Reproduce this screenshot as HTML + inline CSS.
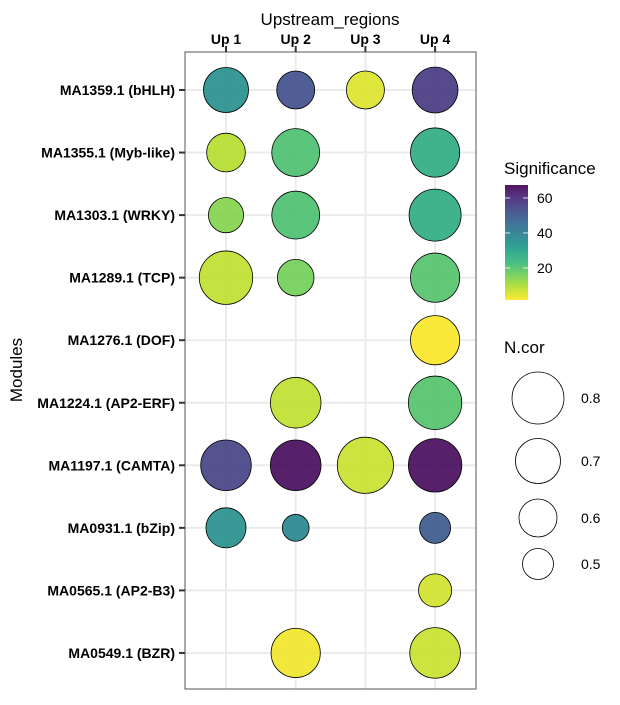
<!DOCTYPE html>
<html><head><meta charset="utf-8"><style>
body{margin:0;background:#fff;}
svg{font-family:"Liberation Sans",sans-serif;}
</style></head><body>
<svg id="chart" width="620" height="700" viewBox="0 0 620 700">
<defs>
<linearGradient id="vg" x1="0" y1="1" x2="0" y2="0">
<stop offset="0" stop-color="#FDE725"/><stop offset="0.111" stop-color="#B4DE2C"/><stop offset="0.222" stop-color="#6DCD59"/><stop offset="0.333" stop-color="#35B779"/><stop offset="0.444" stop-color="#1F9E89"/><stop offset="0.556" stop-color="#26828E"/><stop offset="0.667" stop-color="#31688E"/><stop offset="0.778" stop-color="#3E4A89"/><stop offset="0.889" stop-color="#482878"/><stop offset="1" stop-color="#440154"/>
</linearGradient>
</defs>
<g id="grid"></g>
<g id="marks"></g>
<rect x="185" y="52" width="291" height="637" fill="none" stroke="#555" stroke-width="1"/>
<g id="axes"></g>
<text x="330" y="25" text-anchor="middle" font-size="17" fill="#000">Upstream_regions</text>
<text transform="translate(22,370) rotate(-90)" text-anchor="middle" font-size="17" fill="#000">Modules</text>
<g>
<text x="504" y="174" font-size="17">Significance</text>
<rect x="505" y="185" width="23" height="115" fill="url(#vg)" opacity="0.92"/>
<g id="cbticks"></g>
</g>
<g id="sizeleg">
<text x="504" y="353" font-size="17">N.cor</text>
</g>
</svg>
<script>
const columns = ["Up 1","Up 2","Up 3","Up 4"];
const modules = ["MA1359.1 (bHLH)","MA1355.1 (Myb-like)","MA1303.1 (WRKY)","MA1289.1 (TCP)","MA1276.1 (DOF)","MA1224.1 (AP2-ERF)","MA1197.1 (CAMTA)","MA0931.1 (bZip)","MA0565.1 (AP2-B3)","MA0549.1 (BZR)"];
const pointModule = [0,0,0,0, 1,1,1, 2,2,2, 3,3,3, 4, 5,5, 6,6,6,6, 7,7,7, 8, 9,9];
const pointColumn = [0,1,2,3, 0,1,3, 0,1,3, 0,1,3, 3, 1,3, 0,1,2,3, 0,1,3, 3, 1,3];
const significance = [35,52,5,57, 9,21,27, 14,21,27, 8,16,20, 2, 8,20, 55,66,7,66, 35,38,50, 6, 3,7];
const ncor = [0.7,0.6,0.6,0.71, 0.61,0.74,0.76, 0.56,0.74,0.8, 0.82,0.58,0.76, 0.76, 0.78,0.82, 0.78,0.78,0.86,0.82, 0.63,0.44,0.5, 0.53, 0.76,0.78];
const colorTicks = [20,40,60];
const sizeBreaks = [0.8,0.7,0.6,0.5];

const NS="http://www.w3.org/2000/svg";
function mk(tag,attrs,parent){const e=document.createElementNS(NS,tag);for(const k in attrs)e.setAttribute(k,attrs[k]);parent.appendChild(e);return e;}
const xScale=i=>226+i*69.7;
const yScale=i=>90+i*62.55;
const sigMin=1.7,sigMax=67.4;
const cbY=v=>300-(v-sigMin)/(sigMax-sigMin)*115;
const vir=["#FDE725","#B4DE2C","#6DCD59","#35B779","#1F9E89","#26828E","#31688E","#3E4A89","#482878","#440154"];
function hex(h){return [1,3,5].map(i=>parseInt(h.substr(i,2),16));}
function color(v){let t=Math.max(0,Math.min(1,(v-sigMin)/(sigMax-sigMin)))*(vir.length-1);let i=Math.min(Math.floor(t),vir.length-2),f=t-i;const a=hex(vir[i]),b=hex(vir[i+1]);return "rgb("+a.map((c,k)=>Math.round(c+(b[k]-c)*f)).join(",")+")";}
function rScale(n){return Math.max(3,15.5+(n-0.5)*35);}
const grid=document.getElementById('grid'),marks=document.getElementById('marks'),axes=document.getElementById('axes');
columns.forEach((c,i)=>{
 const x=xScale(i);
 const g=mk('line',{x1:x,x2:x,y1:52,y2:689,stroke:'#ebebeb','stroke-width':2},grid);
 
 
 const t=mk('line',{x1:x,x2:x,y1:46,y2:52,stroke:'#333','stroke-width':2},axes);
 
 
 const l=mk('text',{x:x,y:44,'text-anchor':'middle','font-size':14,'font-weight':'bold'},axes);
 l.textContent=c;
 
 
});
modules.forEach((m,i)=>{
 const y=yScale(i);
 const g=mk('line',{x1:185,x2:476,y1:y,y2:y,stroke:'#ebebeb','stroke-width':2},grid);
 
 
 const t=mk('line',{x1:179,x2:185,y1:y,y2:y,stroke:'#333','stroke-width':2},axes);
 
 
 const l=mk('text',{x:175,y:y+5,'text-anchor':'end','font-size':14,'font-weight':'bold'},axes);
 l.textContent=m;
 
 
});
significance.forEach((s,k)=>{
 const c=mk('circle',{cx:xScale(pointColumn[k]),cy:yScale(pointModule[k]),r:rScale(ncor[k]),fill:color(s),'fill-opacity':0.9,stroke:'#000','stroke-width':0.8},marks);
 
 
});
const cbt=document.getElementById('cbticks');
colorTicks.forEach(v=>{
 const y=cbY(v);
 mk('line',{x1:505,x2:510,y1:y,y2:y,stroke:'#fff','stroke-width':0.8},cbt);
 mk('line',{x1:523,x2:528,y1:y,y2:y,stroke:'#fff','stroke-width':0.8},cbt);
 const l=mk('text',{x:537,y:y+5,'font-size':14},cbt);
 l.textContent=v;
 
 
});
const sl=document.getElementById('sizeleg');
const legY=[398,461,518,564];
sizeBreaks.forEach((b,i)=>{
 const c=mk('circle',{cx:538,cy:legY[i],r:rScale(b),fill:'none',stroke:'#000','stroke-width':0.8},sl);
 
 
 const l=mk('text',{x:581,y:legY[i]+5,'font-size':14},sl);
 l.textContent=b.toFixed(1);
 
 
});
</script>
</body></html>
